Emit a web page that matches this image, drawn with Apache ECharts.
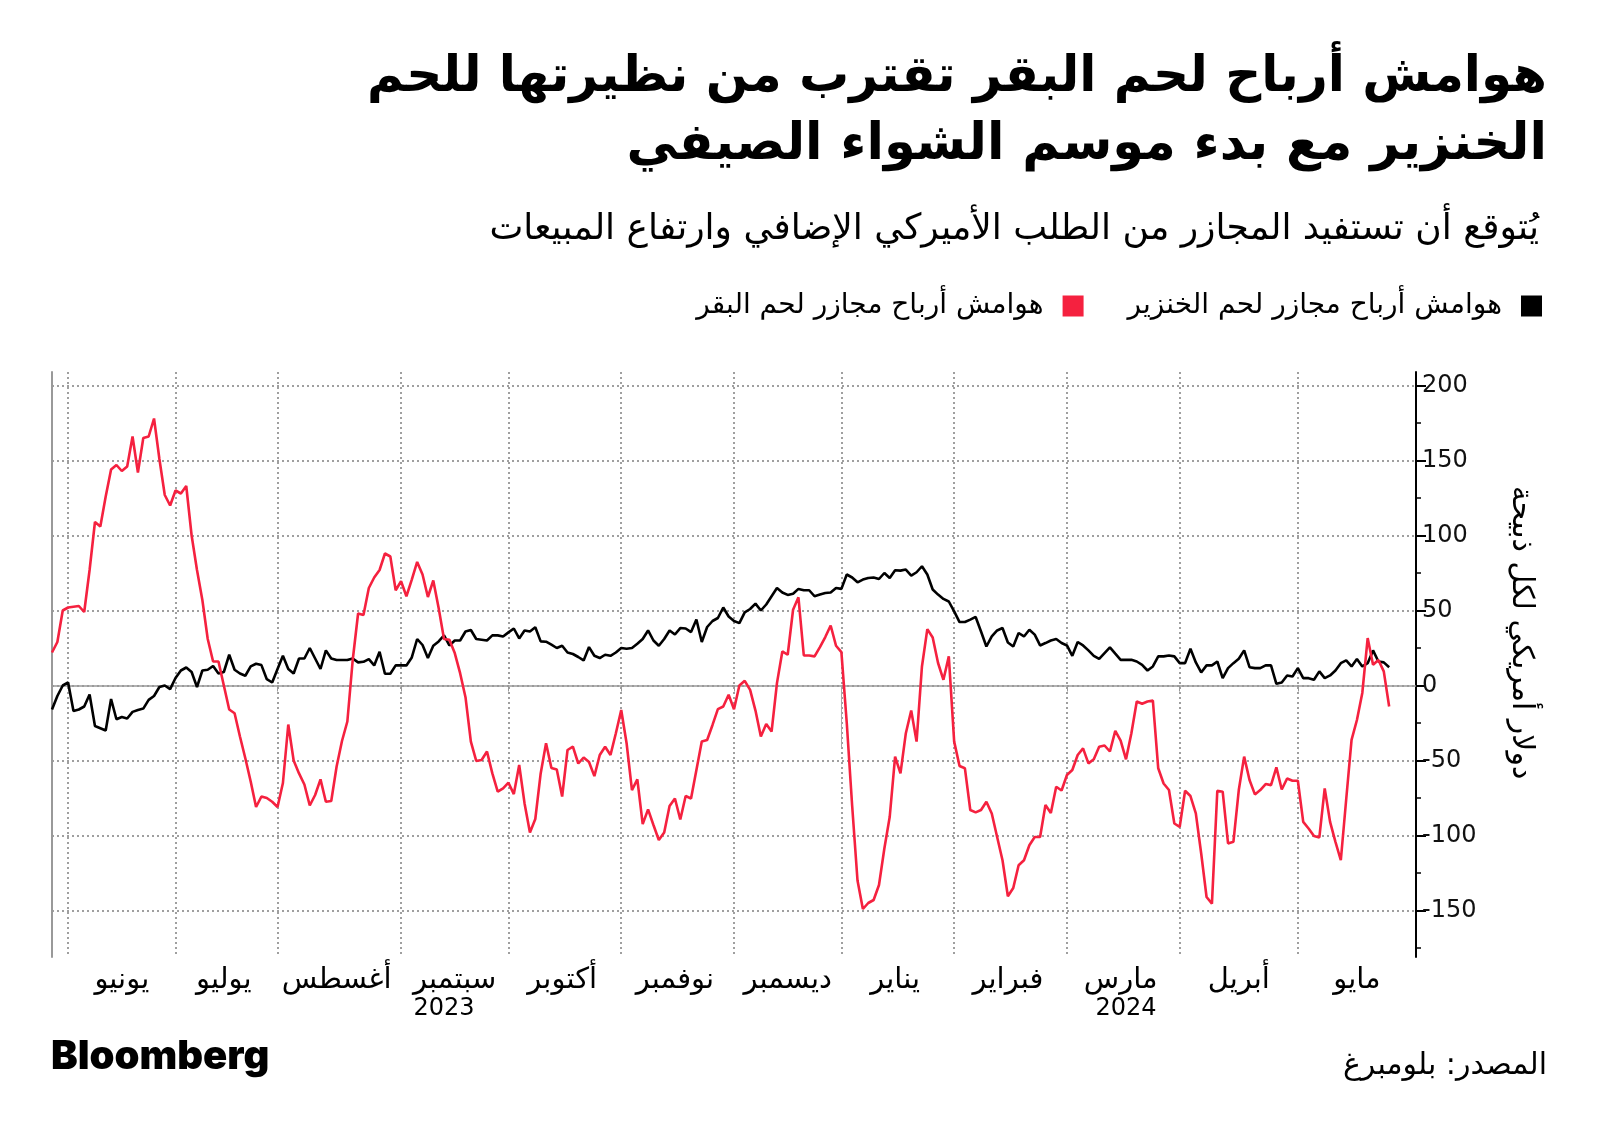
<!DOCTYPE html>
<html><head><meta charset="utf-8">
<script src="https://cdn.jsdelivr.net/npm/echarts@6/dist/echarts.min.js"></script>
<style>html,body{margin:0;padding:0;background:#fff}#c{width:1600px;height:1134px}</style>
</head><body><div id="c"></div>
<script>
// ---- data ----
const monthKeys = ['2023-05','2023-06','2023-07','2023-08','2023-09','2023-10','2023-11','2023-12','2024-01','2024-02','2024-03','2024-04','2024-05'];
const monthCounts = [3,20,19,23,20,21,21,20,21,21,21,22,23];
const monthNames = ['مايو','يونيو','يوليو','أغسطس','سبتمبر','أكتوبر','نوفمبر','ديسمبر','يناير','فبراير','مارس','أبريل','مايو'];
const yearLabels = ['2023','2024'];
const yTickValues = [200,150,100,50,0,-50,-100,-150];
const yMinorTickValues = [175,125,75,25,-25,-75,-125,-175];

const porkName = 'هوامش أرباح مجازر لحم الخنزير';
const beefName = 'هوامش أرباح مجازر لحم البقر';

const porkMargins = [
-16,-7,0,2,-17,-16,-14,-6,-27,-28.5,
-30,-9,-22.5,-21,-22,-17.6,-16.3,-15.4,-9.6,-7,
-1,0,-2.4,5,10,12,9,-1,10,10.5,
13,8,9,20.5,10.5,8,6.5,12.7,14.5,13.6,
4.2,2,11,19.8,11,8,18,18,25,18,
11,23.4,18,17,17,17,18,15.4,15.8,17.6,
13.4,22.5,7.8,7.8,13.4,13.4,13.4,18.7,31,27,
18.3,26.5,29.4,33.4,26.7,30,30,36,37,31,
30.5,30,33.4,33.4,32.7,35.4,38,31.4,36.7,36,
38.8,29.4,29.2,27.2,25,26.5,22,21,19,16.7,
25.6,19.8,18.3,20.5,19.8,22,25,24.5,25,27.8,
31,36.7,30,26.5,31,36.7,34,38.3,38,35.6,
44,29,39,43,45,52,46,43,41.6,48.8,
51,54.6,50,54,59.5,65,62,60.4,61.2,64.4,
63.5,63.5,59.5,60.6,61.7,62,65,64.4,74,72,
68.8,70.6,71.7,72,71,75,71.7,76.8,76.6,77.3,
73.3,75.5,79.5,74,64,60.6,57.7,56,49.4,42.3,
42.3,43.9,45.7,36,26,32.7,36.7,38.3,28.7,26,
35,32.7,37.2,33.9,26.7,28.3,30,31,28.3,26.7,
19.8,29,26.7,23.4,19.8,17.8,21.6,25.4,21.2,17.1,
17.1,17.1,16,13.8,10,12.7,19.4,19.4,20,19.4,
14.9,14.9,24.5,15.4,8.7,13.4,13.4,16,4.9,11.6,
14.9,17.8,23.4,12.2,11.6,11.6,13.4,13.4,1.1,2,
6.7,6,11.6,4.9,4.9,3.8,9.4,4.9,6.7,10,
14.9,16.7,12.7,17.6,12.7,14.9,23.4,16,15.4,12.2
];

const beefMargins = [
22,29,50,52,52.5,53,49,77,109,106,
126,144,147,143,146,166,142,165,166,178,
151,127,120,130,128,133,100,77,57,31,
16,16,0,-16,-18.5,-34,-48.5,-64,-81,-74,
-75,-77.5,-81,-65,-26,-50,-58.6,-66,-80,-73,
-62.6,-77.5,-77,-54,-37,-24,17,48,47,65,
72,77,88,86,63.5,69.5,59.5,70.6,82.4,74,
59,70,51.7,31,30.5,21.6,8.2,-7.8,-37.4,-50.3,
-49.7,-44,-58.6,-70.8,-68.6,-64.8,-72.4,-53,-78.6,-98,
-89,-58.6,-38.5,-55,-56,-74,-43,-40.8,-52,-48,
-51,-60.4,-46.3,-40.8,-46.3,-31.8,-16.3,-38.5,-69.7,-62.6,
-92.4,-82.6,-93,-103,-98,-80.4,-75.3,-89.3,-73.7,-75.3,
-56.3,-37.4,-36.3,-26.3,-15.8,-14,-6.2,-15.8,0,3.1,
-2.9,-16.7,-34,-25.6,-30.7,1.6,22.7,20.5,50.5,58.8,
20,20,19.4,25.6,32.3,40,26.5,22.3,-25,-80,
-130,-149,-145,-143,-133,-108.7,-87.5,-47.4,-58.6,-31.8,
-16.7,-37.4,12.7,37.6,32,15,3.8,19.4,-37.4,-53.7,
-55.2,-83,-84.6,-83,-77.5,-85.3,-101,-116.5,-140.5,-135,
-119.8,-116.5,-106.5,-101,-101,-79.7,-85,-67.5,-70,-59.7,
-56.3,-46.3,-41.9,-51.9,-49.2,-40.8,-40,-44,-30.3,-36.7,
-49.2,-31.8,-10.7,-12.2,-10.7,-10,-55.2,-65.3,-69.7,-92,
-94.2,-70.2,-73.7,-85.3,-112,-141,-145.4,-70.2,-70.8,-105.3,
-104.2,-69.7,-47.4,-63,-72.6,-69.7,-65.7,-66.4,-54.6,-69.3,
-62,-63.5,-63.5,-90.9,-95.3,-100.4,-101.3,-68.6,-90.9,-104.2,
-116.5,-76,-36.3,-23,-5,31.6,13.8,17,9.4,-14
];

const titleLines = ['هوامش أرباح لحم البقر تقترب من نظيرتها للحم', 'الخنزير مع بدء موسم الشواء الصيفي'];
const subtitle = 'يُتوقع أن تستفيد المجازر من الطلب الأميركي الإضافي وارتفاع المبيعات';
const sourceText = 'المصدر: بلومبرغ';
const yAxisTitle = 'دولار أمريكي لكل ذبيحة';

// ---- derived category structure ----
const categories = [];
const monthStart = new Set();
const monthLabelAt = {};
let idx = 0;
monthKeys.forEach((k, m) => {
  if (m > 0) monthStart.add(idx);
  if (m > 0) monthLabelAt[idx + Math.floor(monthCounts[m] / 2)] = monthNames[m];
  for (let j = 0; j < monthCounts[m]; j++) categories.push(k + '-' + (j + 1));
  idx += monthCounts[m];
});
const lastIdx = categories.length - 1;
const yearBoundary = categories.findIndex(c => c.startsWith('2024'));
const yearLabelAt = {};
yearLabelAt[Math.floor(yearBoundary / 2)] = yearLabels[0];
yearLabelAt[Math.floor((yearBoundary + lastIdx) / 2)] = yearLabels[1];

const FONT = 'DejaVu Sans';
const RED = '#f5213f';
const GRID_LINE = {type: [2, 3], color: '#808080', width: 1.5};

const chart = echarts.init(document.getElementById('c'), null, {renderer: 'canvas'});
chart.setOption({
  animation: false,
  backgroundColor: '#fff',
  graphic: [
    {type: 'text', right: 53, top: 53, style: {
      text: titleLines[0], align: 'right', fontSize: 50, fontWeight: 'bold', fontFamily: FONT, fill: '#000'}},
    {type: 'text', right: 53, top: 120, style: {
      text: titleLines[1], align: 'right', fontSize: 51, fontWeight: 'bold', fontFamily: FONT, fill: '#000'}},
    {type: 'text', right: 61, top: 212, style: {
      text: subtitle, align: 'right', fontSize: 36, fontFamily: FONT, fill: '#000'}},
    {type: 'text', left: 51, top: 1037, style: {
      text: 'Bloomberg', fontSize: 40, fontWeight: 900, fontFamily: 'Inter', fill: '#000'}},
    {type: 'text', right: 53, top: 1051, style: {
      text: sourceText, fontSize: 30, fontFamily: FONT, fill: '#000'}}
  ],
  legend: {
    right: 53, top: 287, align: 'right', icon: 'rect', itemWidth: 21, itemHeight: 21, itemGap: 44,
    data: [beefName, porkName],
    textStyle: {fontSize: 28, fontFamily: FONT, color: '#000', padding: [0, 14, 0, 0]}
  },
  grid: {left: 52, right: 184, top: 372, bottom: 177},
  xAxis: [
    {
      type: 'category', data: categories, boundaryGap: false, position: 'bottom',
      axisLine: {show: true, lineStyle: {color: '#999', width: 1.5}},
      axisTick: {show: true, interval: (i) => monthStart.has(i), length: 6, lineStyle: {color: '#999', width: 1}},
      axisLabel: {interval: (i) => monthLabelAt[i] !== undefined, formatter: (v, i) => monthLabelAt[i] || '',
        fontSize: 29, fontFamily: FONT, color: '#000', margin: 9},
      splitLine: {show: true, interval: (i) => monthStart.has(i), lineStyle: GRID_LINE}
    },
    {
      type: 'category', data: categories, boundaryGap: false, position: 'bottom',
      axisLine: {show: false},
      axisTick: {show: true, interval: (i) => i === yearBoundary, length: 62, lineStyle: {color: '#aaa', width: 1}},
      axisLabel: {interval: (i) => yearLabelAt[i] !== undefined, formatter: (v, i) => yearLabelAt[i] || '',
        fontSize: 24, fontFamily: FONT, color: '#000', margin: 40},
      splitLine: {show: false}
    }
  ],
  yAxis: [
    {
      type: 'value', position: 'right', min: -181, max: 209,
      name: yAxisTitle, nameLocation: 'middle', nameRotate: -90, nameGap: 90,
      nameTextStyle: {fontSize: 30, fontFamily: FONT, color: '#000', padding: [0, 64, 0, 0]},
      axisLine: {show: true, lineStyle: {color: '#000', width: 2}},
      axisTick: {show: true, customValues: yTickValues, length: 10, lineStyle: {color: '#000', width: 2}},
      axisLabel: {customValues: yTickValues, fontSize: 24, fontFamily: FONT, color: '#111', margin: 6},
      splitLine: {show: true, lineStyle: GRID_LINE}
    },
    {
      type: 'value', position: 'right', min: -181, max: 209,
      axisLine: {show: false},
      axisTick: {show: true, customValues: yMinorTickValues, length: 5, lineStyle: {color: '#000', width: 1.5}},
      axisLabel: {show: false}, splitLine: {show: false}
    },
    {
      type: 'value', position: 'left', min: -181, max: 209,
      axisLine: {show: true, lineStyle: {color: '#999', width: 2}},
      axisTick: {show: false}, axisLabel: {show: false}, splitLine: {show: false}
    }
  ],
  series: [
    {name: porkName, type: 'line', data: porkMargins, showSymbol: false, symbol: 'none',
      lineStyle: {color: '#000', width: 2.6}, itemStyle: {color: '#000'}, emphasis: {disabled: true}},
    {name: beefName, type: 'line', data: beefMargins, showSymbol: false, symbol: 'none',
      lineStyle: {color: RED, width: 2.6}, itemStyle: {color: RED}, emphasis: {disabled: true}}
  ]
});
</script>
</body></html>
